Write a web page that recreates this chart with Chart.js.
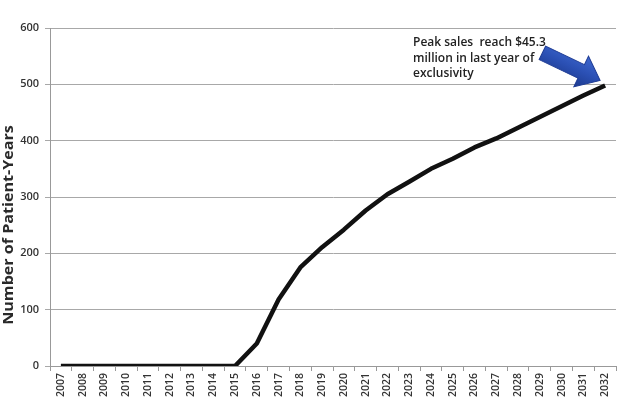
<!DOCTYPE html>
<html>
<head>
<meta charset="utf-8">
<script src="https://cdn.jsdelivr.net/npm/chart.js@4/dist/chart.umd.min.js"></script>
<style>
  html, body { margin: 0; padding: 0; background: #fff; }
  #wrap { width: 620px; height: 420px; position: relative; }
</style>
</head>
<body>
<div id="wrap"><canvas id="c" width="620" height="420"></canvas></div>
<script>
const years = ["2007","2008","2009","2010","2011","2012","2013","2014","2015","2016","2017","2018","2019","2020","2021","2022","2023","2024","2025","2026","2027","2028","2029","2030","2031","2032"];
const patientYears = [0,0,0,0,0,0,0,0,0,40,118,175,211,242,276,305,327,350,368,388,404,423,442,461,480,498];
const yTicks = [0,100,200,300,400,500,600];
const yAxisTitle = "Number of Patient-Years";
const calloutLines = ["Peak sales  reach $45.3", "million in last year of", "exclusivity"];

const FONT = "'Open Sans', Lato, 'Liberation Sans', sans-serif";

const yTitlePlugin = {
  id: 'yTitle',
  afterDraw(chart) {
    const ctx = chart.ctx;
    ctx.save();
    ctx.translate(9, 225);
    ctx.rotate(-Math.PI / 2);
    ctx.font = "bold 14px " + FONT;
    const w = ctx.measureText(yAxisTitle).width;
    const sx = Math.min(1.15, 208 / w);
    ctx.scale(sx, 1);
    ctx.fillStyle = "#2a2a2a";
    ctx.textAlign = "center";
    ctx.textBaseline = "middle";
    ctx.fillText(yAxisTitle, 0, 0);
    ctx.restore();
  }
};

const calloutPlugin = {
  id: 'callout',
  afterDatasetsDraw(chart) {
    const ctx = chart.ctx;
    const xs = chart.scales.x, ys = chart.scales.y;
    const last = patientYears.length - 1;
    const px = xs.getPixelForValue(last);
    const py = ys.getPixelForValue(patientYears[last]);
    const tx = px - 5, ty = py - 5;
    const ang = Math.atan2(27.5, 57.5);
    const L = 64, headL = 21, shaftW = 15, headW = 34;
    ctx.save();
    ctx.translate(tx, ty);
    ctx.rotate(ang);
    const grad = ctx.createLinearGradient(0, -headW / 2, 0, headW / 2);
    grad.addColorStop(0, "#3e68cf");
    grad.addColorStop(0.5, "#2b50b4");
    grad.addColorStop(1, "#1d3a8e");
    ctx.beginPath();
    ctx.moveTo(0, 0);
    ctx.lineTo(-headL, -headW / 2);
    ctx.lineTo(-headL, -shaftW / 2);
    ctx.lineTo(-L, -shaftW / 2);
    ctx.lineTo(-L, shaftW / 2);
    ctx.lineTo(-headL, shaftW / 2);
    ctx.lineTo(-headL, headW / 2);
    ctx.closePath();
    ctx.fillStyle = grad;
    ctx.fill();
    ctx.strokeStyle = "#1f3c94";
    ctx.lineWidth = 1;
    ctx.stroke();
    ctx.restore();

    ctx.save();
    ctx.font = "600 12px " + FONT;
    ctx.fillStyle = "#222";
    ctx.textAlign = "left";
    ctx.textBaseline = "middle";
    const w0 = ctx.measureText(calloutLines[0]).width;
    calloutLines.forEach((t, i) => {
      ctx.save();
      ctx.translate(413, 43 + i * 15.5);
      ctx.scale(Math.min(1, 135 / w0), 1);
      ctx.fillText(t, 0, 0);
      ctx.restore();
    });
    ctx.restore();
  }
};

new Chart(document.getElementById('c'), {
  type: 'line',
  data: {
    labels: years,
    datasets: [{
      data: patientYears,
      borderColor: '#111',
      borderWidth: 4.5,
      pointRadius: 0,
      tension: 0,
      borderJoinStyle: 'round',
      borderCapStyle: 'butt',
      fill: false
    }]
  },
  options: {
    responsive: false,
    animation: false,
    layout: { padding: { top: 28, right: 4, left: 0, bottom: 0 } },
    plugins: { legend: { display: false }, tooltip: { enabled: false } },
    scales: {
      x: {
        offset: true,
        grid: { offset: true, drawOnChartArea: false, drawTicks: true, tickLength: 5, color: '#999' },
        border: { color: '#999', width: 1 },
        ticks: {
          minRotation: 90, maxRotation: 90, autoSkip: false, padding: 2,
          color: '#333', font: { family: FONT, size: 10.5, weight: '600' }
        },
        afterFit(s) { s.height = 54; }
      },
      y: {
        min: 0, max: 600,
        afterBuildTicks(s) { s.ticks = yTicks.map(v => ({ value: v })); },
        grid: { color: '#a8a8a8', lineWidth: 1, tickLength: 5, drawTicks: true },
        border: { color: '#999', width: 1 },
        ticks: {
          padding: 6, color: '#333',
          font: { family: FONT, size: 11, weight: '600' }
        },
        afterFit(s) { s.width = 50; }
      }
    }
  },
  plugins: [yTitlePlugin, calloutPlugin]
});
</script>
</body>
</html>
